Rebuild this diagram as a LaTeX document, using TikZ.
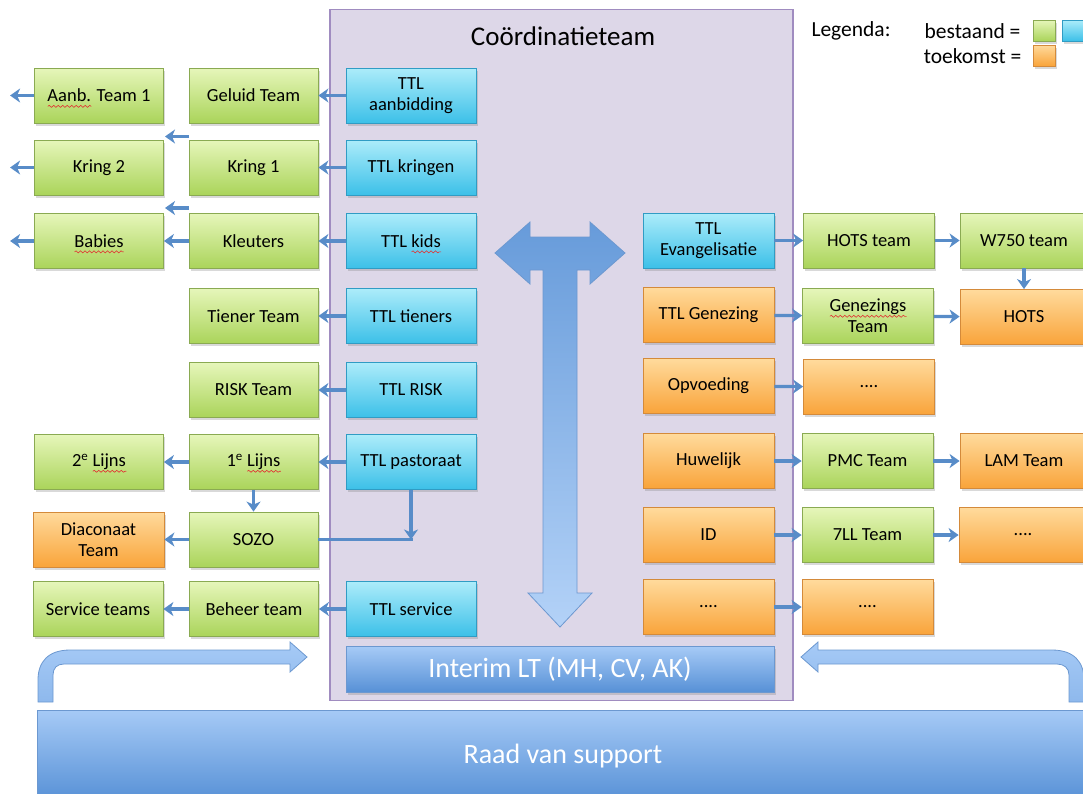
\documentclass[tikz,border=0pt]{standalone}
\usepackage{fontspec}
\setmainfont{Carlito}
\usepackage{tikz}
\usetikzlibrary{shadows,arrows.meta,positioning,calc,decorations.pathmorphing}
\definecolor{gt}{RGB}{230,246,186}
\definecolor{gb}{RGB}{170,212,90}
\definecolor{ge}{RGB}{138,170,82}
\definecolor{ct}{RGB}{172,236,250}
\definecolor{cb}{RGB}{60,192,232}
\definecolor{ce}{RGB}{48,156,196}
\definecolor{ot}{RGB}{255,218,156}
\definecolor{ob}{RGB}{249,164,58}
\definecolor{oe}{RGB}{212,138,58}
\definecolor{bt}{RGB}{166,202,246}
\definecolor{bb}{RGB}{86,144,214}
\definecolor{be}{RGB}{108,152,208}
\definecolor{pf}{RGB}{221,215,232}
\definecolor{pe}{RGB}{160,140,192}
\definecolor{ln}{RGB}{88,140,200}
\definecolor{sq}{RGB}{225,50,50}
% red spell-check wave under a word
\newsavebox{\sqword}
\newlength{\sqlen}
\newcommand{\squig}[1]{\sbox{\sqword}{#1}\setlength{\sqlen}{\wd\sqword}%
  \rlap{\raisebox{0pt}[0pt][0pt]{\tikz[baseline=0pt, x=1pt, y=1pt]\draw[sq, line width=0.6pt, decorate,
    decoration={snake, amplitude=1pt, segment length=4.5pt}] (0,-4.5) -- (\sqlen,-4.5);}}#1}

\begin{document}
\begin{tikzpicture}[x=1pt, y=-1pt,
  box/.style={rectangle, draw, line width=0.8pt, minimum width=129pt, minimum height=55pt, inner sep=2pt, align=center,
    font=\fontsize{18.5}{21}\selectfont, drop shadow={shadow xshift=1.5pt, shadow yshift=-2.5pt, opacity=0.3}},
  gbox/.style={box, draw=ge, top color=gt, bottom color=gb},
  cbox/.style={box, draw=ce, top color=ct, bottom color=cb},
  obox/.style={box, draw=oe, top color=ot, bottom color=ob},
  bbox/.style={box, draw=be, top color=bt, bottom color=bb, text=white, font=\fontsize{28}{31}\selectfont},
  sqbox/.style={minimum width=22pt, minimum height=21pt, inner sep=0pt},
  arrow/.style={-{Stealth[length=10pt, width=14pt, inset=3pt]}, line width=3.3pt, color=ln},
  link/.style={line width=3.3pt, color=ln},
  bigarrow/.style={draw=be, line width=0.8pt, top color=bt, bottom color=bt!70!bb}
]
\useasboundingbox (0,0) rectangle (1083,793);

% Coordinatieteam panel
\node[draw=pe, fill=pf, line width=1.2pt, minimum width=463pt, minimum height=691pt] (panel) at (561.5,355) {};
\node[font=\fontsize{27}{30}\selectfont] (title) at (563,36) {Coördinatieteam};

% legend
\node[font=\fontsize{21.5}{24}\selectfont] (legenda) at (851,31) {Legenda:};
\node[font=\fontsize{21.5}{24}\selectfont] (bestaand) at (972.5,31) {bestaand =};
\node[font=\fontsize{21.5}{24}\selectfont] (toekomst) at (972.5,56) {toekomst =};
\node[gbox, sqbox] (leggreen) at (1044,30.5) {};
\node[cbox, sqbox] (legcyan) at (1073,30.5) {};
\node[obox, sqbox] (legorange) at (1044,55.5) {};

% big T arrow
\path[draw=be, line width=0.8pt, top color=bb!90, bottom color=bt!85!white]
  (495,253) -- (530,222) -- (530,237) -- (590,237) -- (590,222) -- (625,253) -- (590,284) -- (590,270)
  -- (577,270) -- (577,593) -- (592,593) -- (560,627) -- (528,593) -- (543,593) -- (543,270)
  -- (530,270) -- (530,284) -- cycle;

% left side
\node[gbox] (aanb) at (99,95.5) {\squig{Aanb.} Team 1};
\node[gbox] (kring2) at (99,167.5) {Kring 2};
\node[gbox] (babies) at (99,241) {\squig{Babies}};
\node[gbox] (lijn2) at (99,462) {2\textsuperscript{e} \squig{Lijns}};
\node[obox, minimum width=131pt] (diac) at (98.5,539.5) {Diaconaat\\Team};
\node[gbox, minimum width=130pt] (service) at (98,609) {Service teams};

\node[gbox] (geluid) at (253.5,95.5) {Geluid Team};
\node[gbox] (kring1) at (253.5,167.5) {Kring 1};
\node[gbox] (kleuters) at (253.5,241) {Kleuters};
\node[gbox] (tiener) at (253.5,316) {Tiener Team};
\node[gbox] (risk) at (253.5,390) {RISK Team};
\node[gbox] (lijn1) at (253.5,462) {1\textsuperscript{e} \squig{Lijns}};
\node[gbox] (sozo) at (253.5,539.5) {SOZO};
\node[gbox] (beheer) at (254,609) {Beheer team};

\node[cbox, minimum width=130pt] (ttlaanb) at (411,95.5) {TTL\\aanbidding};
\node[cbox, minimum width=130pt] (ttlkring) at (411,167.5) {TTL kringen};
\node[cbox, minimum width=130pt] (ttlkids) at (411,241) {TTL \squig{kids}};
\node[cbox, minimum width=130pt] (ttltien) at (411,316) {TTL tieners};
\node[cbox, minimum width=130pt] (ttlrisk) at (411,390) {TTL RISK};
\node[cbox, minimum width=130pt] (ttlpast) at (411,462) {TTL pastoraat};
\node[cbox, minimum width=130pt] (ttlserv) at (411,609) {TTL service};

% right side
\node[cbox, minimum width=131pt] (ttlevang) at (708.5,240.5) {TTL\\Evangelisatie};
\node[obox, minimum width=131pt] (ttlgen) at (708.5,315) {TTL Genezing};
\node[obox, minimum width=131pt] (opvoed) at (708.5,386) {Opvoeding};
\node[obox, minimum width=131pt] (huwelijk) at (708.5,461) {Huwelijk};
\node[obox, minimum width=131pt] (id) at (708.5,535) {ID};
\node[obox, minimum width=131pt] (dotsA) at (708.5,607) {....};

\node[gbox, minimum width=131pt] (hotsteam) at (869,240.5) {HOTS team};
\node[gbox, minimum width=131pt] (genteam) at (868,316) {\squig{Genezings}\\Team};
\node[obox, minimum width=131pt] (dotsB) at (869,387) {....};
\node[gbox, minimum width=131pt] (pmc) at (867.5,461) {PMC Team};
\node[gbox, minimum width=131pt] (zevenll) at (867.5,535) {7LL Team};
\node[obox, minimum width=131pt] (dotsB2) at (867.5,607) {....};

\node[gbox, minimum width=128pt] (w750) at (1024,240.5) {W750 team};
\node[obox, minimum width=128pt] (hots) at (1024,317) {HOTS};
\node[obox, minimum width=128pt] (lam) at (1024,461) {LAM Team};
\node[obox, minimum width=128pt] (dotsC) at (1023,535) {....};

% bottom
\node[bbox, minimum width=428pt, minimum height=46pt] (interim) at (560,669.5) {Interim LT (MH, CV, AK)};
\node[bbox, minimum width=1052pt, minimum height=92pt] (raad) at (563,756) {Raad van support};

% curved arrows from the Raad up to the panel
\path[bigarrow] (38,702) -- (38,680) .. controls (38,662) and (48,650) .. (70,650) -- (290,650) -- (290,642)
  -- (307,657) -- (290,672) -- (290,664) -- (64,664) .. controls (57,664) and (53,668) .. (53,675) -- (53,702) -- cycle;
\path[bigarrow] (1084,702) -- (1084,680) .. controls (1084,662) and (1074,650) .. (1052,650) -- (818,650) -- (818,642)
  -- (801,657) -- (818,672) -- (818,664) -- (1057,664) .. controls (1064,664) and (1069,668) .. (1069,675) -- (1069,702) -- cycle;

% free ends
\coordinate[left=24pt of aanb] (aanbout);
\coordinate[left=24pt of kring2] (kring2out);
\coordinate[left=24pt of babies] (babiesout);
\coordinate (kr1a) at (189,136.5);
\coordinate (kr1b) at (165,136.5);
\coordinate (kl1a) at (189,208);
\coordinate (kl1b) at (165,208);
\coordinate (pastknik) at (ttlpast.south |- sozo.east);

% left connectors
\draw[arrow] (ttlaanb) -- (geluid);
\draw[arrow] (aanb) -- (aanbout);
\draw[arrow] (ttlkring) -- (kring1);
\draw[arrow] (kring2) -- (kring2out);
\draw[arrow] (kr1a) -- (kr1b);
\draw[arrow] (ttlkids) -- (kleuters);
\draw[arrow] (kleuters) -- (babies);
\draw[arrow] (babies) -- (babiesout);
\draw[arrow] (kl1a) -- (kl1b);
\draw[arrow] (ttltien) -- (tiener);
\draw[arrow] (ttlrisk) -- (risk);
\draw[arrow] (ttlpast) -- (lijn1);
\draw[arrow] (lijn1) -- (lijn2);
\draw[arrow] (lijn1) -- (sozo);
\draw[arrow] (sozo) -- (diac);
\draw[arrow] (ttlpast) -- (pastknik);
\draw[link] (sozo.east) -- ([xshift=1.6pt]pastknik);
\draw[arrow] (ttlserv) -- (beheer);
\draw[arrow] (beheer) -- (service);

% right connectors
\draw[arrow] (ttlevang) -- (hotsteam);
\draw[arrow] (hotsteam) -- (w750);
\draw[arrow] (w750) -- (hots);
\draw[arrow] (ttlgen) -- (genteam);
\draw[arrow] (genteam) -- (hots);
\draw[arrow] (opvoed) -- (dotsB);
\draw[arrow] (huwelijk) -- (pmc);
\draw[arrow] (pmc) -- (lam);
\draw[arrow] (id) -- (zevenll);
\draw[arrow] (zevenll) -- (dotsC);
\draw[arrow] (dotsA) -- (dotsB2);
\end{tikzpicture}
\end{document}
